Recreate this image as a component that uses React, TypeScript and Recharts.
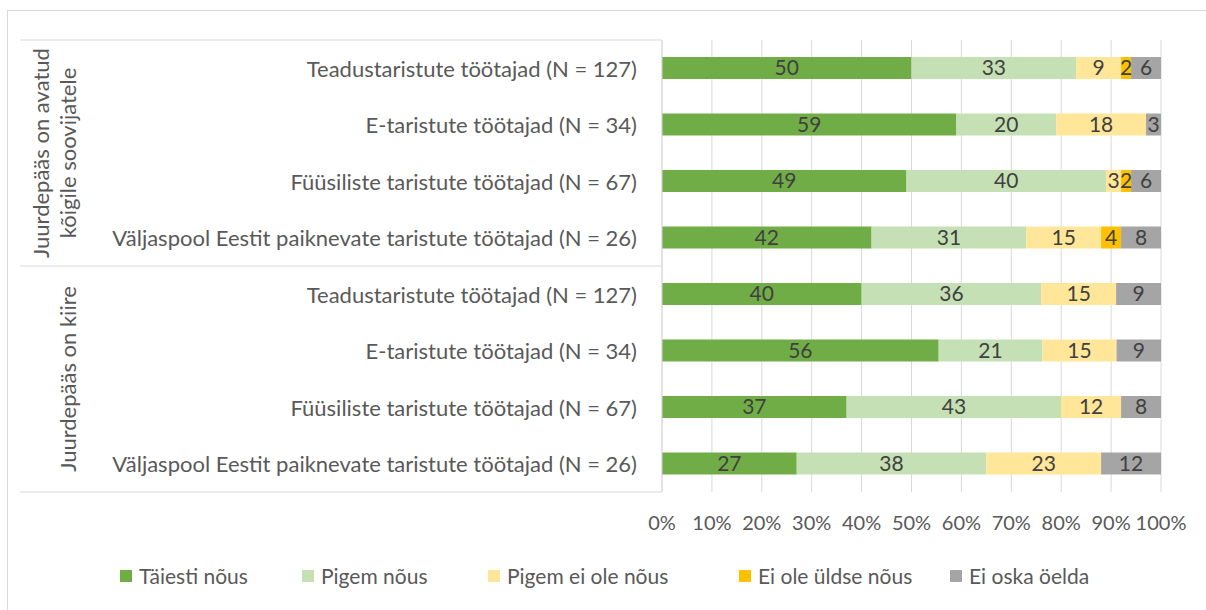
import React from "react";
import {
  Bar,
  BarChart,
  CartesianGrid,
  LabelList,
  XAxis,
  YAxis,
} from "recharts";

const CATEGORIES = [
  "Teadustaristute töötajad (N = 127)",
  "E-taristute töötajad (N = 34)",
  "Füüsiliste taristute töötajad (N = 67)",
  "Väljaspool Eestit paiknevate taristute töötajad (N = 26)",
  "Teadustaristute töötajad (N = 127)",
  "E-taristute töötajad (N = 34)",
  "Füüsiliste taristute töötajad (N = 67)",
  "Väljaspool Eestit paiknevate taristute töötajad (N = 26)",
];

const GROUPS = [
  ["Juurdepääs on avatud", "kõigile soovijatele"],
  ["Juurdepääs on kiire"],
];

const SERIES = [
  "Täiesti nõus",
  "Pigem nõus",
  "Pigem ei ole nõus",
  "Ei ole üldse nõus",
  "Ei oska öelda",
];
const COLORS = ["#70AD47", "#C5E0B4", "#FFE699", "#FFC000", "#A5A5A5"];

const TAIESTI = [50, 59, 49, 42, 40, 56, 37, 27];
const PIGEM = [33, 20, 40, 31, 36, 21, 43, 38];
const PIGEM_EI = [9, 18, 3, 15, 15, 15, 12, 23];
const EI_OLE = [2, 0, 2, 4, 0, 0, 0, 0];
const EI_OSKA = [6, 3, 6, 8, 9, 9, 8, 12];

const TICKS = [0, 0.1, 0.2, 0.3, 0.4, 0.5, 0.6, 0.7, 0.8, 0.9, 1];

const VALUES = [TAIESTI, PIGEM, PIGEM_EI, EI_OLE, EI_OSKA];
const data = CATEGORIES.map((name, i) => {
  const row: Record<string, string | number> = { name };
  SERIES.forEach((s, k) => {
    row[s] = VALUES[k][i];
  });
  return row;
});

const W = 1206;
const H = 610;
const TOP = 40;
const BOTTOM = 492;
const LEFT = 662;
const RIGHT = 1161;
const FRAME_LEFT = 20;
const BAND = (BOTTOM - TOP) / CATEGORIES.length;
const FONT = "Lato, 'Open Sans', sans-serif";
const LINE = "#d9d9d9";
const TEXT = "#595959";
// legend slot widths, to match the spread of the original legend
const LEGEND_SLOTS = [182, 186, 251, 211, 200];

function CategoryTick(props: any) {
  const { y, index } = props;
  const label = props.payload?.value;
  const perGroup = CATEGORIES.length / GROUPS.length;
  const inGroup = index % perGroup;
  const group = Math.floor(index / perGroup);
  const groupMid = y - BAND / 2 + (perGroup * BAND) / 2;
  const lines = GROUPS[group];
  return (
    <g>
      <text
        x={LEFT - 25}
        y={y}
        textAnchor="end"
        dominantBaseline="central"
        fontSize={22}
        fontFamily={FONT}
        fill={TEXT}
      >
        {label}
      </text>
      {inGroup === 0 && (
        <>
          <line x1={FRAME_LEFT} x2={LEFT} y1={y - BAND / 2} y2={y - BAND / 2} stroke={LINE} />
          {lines.map((t, j) => {
            const cx = lines.length === 1 ? 67 : 40 + j * 27;
            return (
              <text
                key={j}
                x={cx}
                y={groupMid}
                transform={`rotate(-90, ${cx}, ${groupMid})`}
                textAnchor="middle"
                dominantBaseline="central"
                fontSize={22}
                fontFamily={FONT}
                fill={TEXT}
              >
                {t}
              </text>
            );
          })}
        </>
      )}
      {index === CATEGORIES.length - 1 && (
        <line x1={FRAME_LEFT} x2={LEFT} y1={y + BAND / 2} y2={y + BAND / 2} stroke={LINE} />
      )}
    </g>
  );
}

export default function App() {
  return (
    <div style={{ position: "relative", width: W, height: H, overflow: "hidden", background: "#fff" }}>
      <style>{"body{margin:0}"}</style>
      <div
        style={{
          position: "absolute",
          left: 7,
          top: 10,
          width: W,
          height: H,
          border: `1px solid ${LINE}`,
        }}
      />
      <div style={{ position: "absolute", left: 0, top: 0 }}>
        <BarChart
          width={W}
          height={H}
          data={data}
          layout="vertical"
          stackOffset="expand"
          barSize={22}
          margin={{ top: TOP, right: W - RIGHT, bottom: H - BOTTOM - 30, left: FRAME_LEFT }}
        >
          <CartesianGrid horizontal={false} stroke={LINE} />
          <XAxis
            type="number"
            domain={[0, 1]}
            ticks={TICKS}
            interval={0}
            height={30}
            axisLine={false}
            tickLine={false}
            tickMargin={18}
            tickFormatter={(v: number) => `${Math.round(v * 100)}%`}
            tick={{ fontSize: 20, fontFamily: FONT, fill: TEXT }}
          />
          <YAxis
            type="category"
            dataKey="name"
            width={LEFT - FRAME_LEFT}
            interval={0}
            axisLine={{ stroke: LINE }}
            tickLine={false}
            tick={<CategoryTick />}
          />
          {SERIES.map((s, k) => (
            <Bar key={s} dataKey={s} stackId="a" fill={COLORS[k]} isAnimationActive={false}>
              <LabelList
                dataKey={s}
                position="center"
                formatter={(v: any) => (v ? v : "")}
                fill="#404040"
                fontSize={21}
                fontFamily={FONT}
              />
            </Bar>
          ))}
        </BarChart>
      </div>
      <div
        style={{
          position: "absolute",
          left: 120,
          top: 564,
          display: "flex",
          fontFamily: FONT,
          fontSize: 21,
          color: TEXT,
          lineHeight: "24px",
        }}
      >
        {SERIES.map((s, k) => (
          <div key={s} style={{ display: "flex", alignItems: "center", width: LEGEND_SLOTS[k], whiteSpace: "nowrap" }}>
            <span style={{ width: 12, height: 12, background: COLORS[k], marginRight: 7 }} />
            {s}
          </div>
        ))}
      </div>
    </div>
  );
}
